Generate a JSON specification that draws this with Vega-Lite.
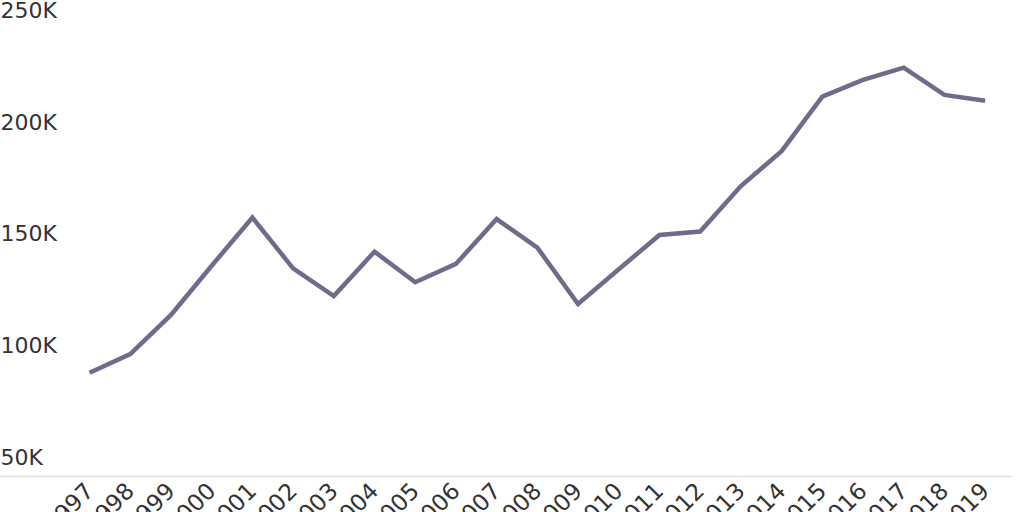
{
  "$schema": "https://vega.github.io/schema/vega-lite/v6.json",
  "width": 1012,
  "height": 476,
  "autosize": {"type": "none"},
  "padding": {"left": 0, "top": 0, "right": 12, "bottom": 36},
  "background": "white",
  "config": {"view": {"stroke": null}},
  "data": {
    "values": [
      {"year": 1997, "value": 96300},
      {"year": 1998, "value": 104700},
      {"year": 1999, "value": 122200},
      {"year": 2000, "value": 144300},
      {"year": 2001, "value": 165900},
      {"year": 2002, "value": 143100},
      {"year": 2003, "value": 130700},
      {"year": 2004, "value": 150600},
      {"year": 2005, "value": 136900},
      {"year": 2006, "value": 145100},
      {"year": 2007, "value": 165200},
      {"year": 2008, "value": 152400},
      {"year": 2009, "value": 127100},
      {"year": 2010, "value": 142700},
      {"year": 2011, "value": 158100},
      {"year": 2012, "value": 159600},
      {"year": 2013, "value": 180000},
      {"year": 2014, "value": 195700},
      {"year": 2015, "value": 220100},
      {"year": 2016, "value": 227600},
      {"year": 2017, "value": 233100},
      {"year": 2018, "value": 220900},
      {"year": 2019, "value": 218300}
    ]
  },
  "mark": {"type": "line", "color": "#706a8c", "strokeWidth": 4.5, "strokeJoin": "miter", "strokeCap": "butt"},
  "encoding": {
    "x": {
      "field": "year",
      "type": "quantitative",
      "scale": {"domain": [1994.8, 2019.66], "nice": false, "zero": false},
      "axis": {
        "title": null,
        "values": [1997,1998,1999,2000,2001,2002,2003,2004,2005,2006,2007,2008,2009,2010,2011,2012,2013,2014,2015,2016,2017,2018,2019],
        "format": "d",
        "labelAngle": -45,
        "labelAlign": "right",
        "labelBaseline": "middle",
        "labelFontSize": 23,
        "labelFont": "DejaVu Sans",
        "labelColor": "#333333",
        "labelPadding": 11,
        "labelOverlap": false,
        "labelFlush": false,
        "ticks": false,
        "grid": false,
        "domain": true,
        "domainColor": "#e0e0e0",
        "domainWidth": 1.5
      }
    },
    "y": {
      "field": "value",
      "type": "quantitative",
      "scale": {"domain": [50000, 263450], "nice": false, "zero": false},
      "axis": {
        "title": null,
        "values": [50000, 100000, 150000, 200000, 250000],
        "labelExpr": "format(datum.value / 1000, 'd') + 'K'",
        "labelAlign": "left",
        "labelBaseline": "middle",
        "labelOffset": -19,
        "labelPadding": 0,
        "labelFontSize": 22,
        "labelFont": "DejaVu Sans",
        "labelColor": "#333333",
        "labelFlush": false,
        "labelOverlap": false,
        "ticks": false,
        "grid": false,
        "domain": false
      }
    }
  }
}
